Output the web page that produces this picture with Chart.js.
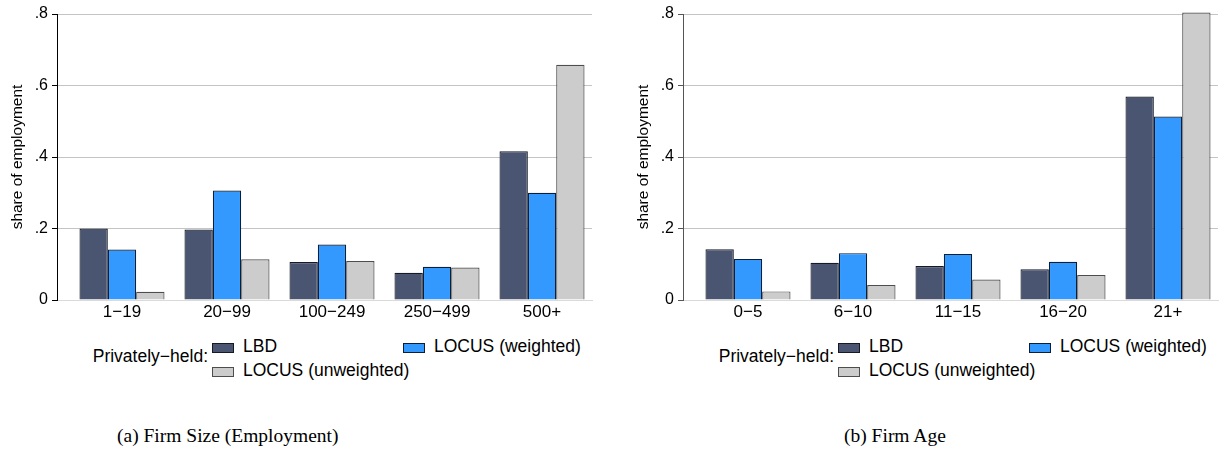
<!DOCTYPE html>
<html>
<head>
<meta charset="utf-8">
<script src="https://cdn.jsdelivr.net/npm/chart.js@4.4.1/dist/chart.umd.min.js"></script>
<style>
  html, body { margin: 0; padding: 0; background: #fff; overflow: hidden; }
  #wrap { position: relative; width: 1221px; height: 457px; }
  canvas { position: absolute; top: 0; }
  .lg { position: absolute; font-family: "Liberation Sans", Arial, sans-serif; font-size: 17.5px; color: #000; white-space: nowrap; }
  .sw { position: absolute; width: 20px; height: 8px; }
  .cap { position: absolute; font-family: "Liberation Serif", serif; font-size: 19.5px; color: #000; white-space: nowrap; }
</style>
</head>
<body>
<div id="wrap">
  <canvas id="sizeChart"></canvas>
  <canvas id="ageChart"></canvas>
  <div id="sizeLegend"></div>
  <div id="ageLegend"></div>
  <div class="cap" style="left:117px; top:425px;">(a) Firm Size (Employment)</div>
  <div class="cap" style="left:844px; top:425px;">(b) Firm Age</div>
</div>
<script>
// categories
const sizeCats = ["1−19", "20−99", "100−249", "250−499", "500+"];
const ageCats = ["0−5", "6−10", "11−15", "16−20", "21+"];

// share of employment, privately-held firms
const sizeLBD = [0.200, 0.197, 0.106, 0.076, 0.416];
const sizeLocusW = [0.141, 0.306, 0.155, 0.093, 0.300];
const sizeLocusU = [0.023, 0.114, 0.109, 0.091, 0.658];

const ageLBD = [0.142, 0.104, 0.095, 0.086, 0.569];
const ageLocusW = [0.115, 0.131, 0.129, 0.107, 0.513];
const ageLocusU = [0.024, 0.042, 0.057, 0.070, 0.804];

const seriesNames = ["LBD", "LOCUS (weighted)", "LOCUS (unweighted)"];
const yTicks = [0, 0.2, 0.4, 0.6, 0.8];

const fills = ["#4a5572", "#3399ff", "#cccccc"];
const edges = ["#161a26", "#0d1f36", "#4d4d4d"];

function toPoints(vals) {
    return vals.map((v, i) => ({ x: i, y: v }));
}

function makeChart(id, left, width, cats, series, axisColor) {
    const canvas = document.getElementById(id);
    canvas.style.left = left + "px";
    canvas.width = width;
    canvas.height = 330;

    return new Chart(canvas, {
        type: "bar",
        data: {
            datasets: series.map((vals, k) => ({
                label: seriesNames[k],
                data: toPoints(vals),
                backgroundColor: fills[k],
                borderColor: edges[k],
                borderWidth: 1.2,
                categoryPercentage: 0.81,
                barPercentage: 1.0,
                clip: false
            }))
        },
        options: {
            responsive: false,
            animation: false,
            devicePixelRatio: 1,
            layout: { padding: { top: 14, right: width - 592, left: 0, bottom: 0 } },
            plugins: { legend: { display: false }, tooltip: { enabled: false } },
            scales: {
                x: {
                    type: "linear",
                    offset: false,
                    min: -0.619,
                    max: 4.476,
                    afterFit: (s) => { s.height = 30; },
                    afterBuildTicks: (s) => { s.ticks = cats.map((c, i) => ({ value: i })); },
                    grid: { display: true, offset: false, drawOnChartArea: false, drawTicks: false },
                    border: { display: true, color: "#dadada", width: 1 },
                    ticks: {
                        autoSkip: false,
                        maxRotation: 0,
                        padding: 2,
                        color: "#000",
                        font: { family: "Liberation Sans", size: 17 },
                        callback: (v) => cats[v]
                    }
                },
                y: {
                    min: 0,
                    max: 0.8,
                    afterFit: (s) => { s.width = 57; },
                    afterBuildTicks: (s) => { s.ticks = yTicks.map(v => ({ value: v })); },
                    grid: {
                        color: "#c4c4c4",
                        borderDash: [1, 3],
                        tickColor: axisColor,
                        tickBorderDash: [],
                        tickLength: 5
                    },
                    border: { display: true, color: axisColor, width: 1 },
                    ticks: {
                        padding: 4,
                        color: "#000",
                        font: { family: "Liberation Sans", size: 16 },
                        callback: (v) => v === 0 ? "0" : v.toFixed(1).replace(/^0/, "")
                    },
                    title: {
                        display: true,
                        text: "share of employment",
                        color: "#000",
                        padding: { top: 8, bottom: 0 },
                        font: { family: "Liberation Sans", size: 15.5 }
                    }
                }
            }
        }
    });
}

function makeLegend(id, left) {
    const box = document.getElementById(id);
    let html = `<div class="lg" style="left:${left - 130}px; top:346px; width:126px; text-align:right;">Privately−held:</div>`;
    const spots = [[left, 339], [left + 191, 339], [left, 363]];
    seriesNames.forEach((name, k) => {
        const [x, y] = spots[k];
        html += `<div class="sw" style="left:${x}px; top:${y + 4}px; background:${fills[k]}; border:1px solid ${edges[k]};"></div>`;
        html += `<div class="lg" style="left:${x + 31}px; top:${y - 3}px;">${name}</div>`;
    });
    box.innerHTML = html;
}

makeChart("sizeChart", 0, 610, sizeCats, [sizeLBD, sizeLocusW, sizeLocusU], "#000");
makeChart("ageChart", 626, 595, ageCats, [ageLBD, ageLocusW, ageLocusU], "#555");
makeLegend("sizeLegend", 212);
makeLegend("ageLegend", 838);
</script>
</body>
</html>
